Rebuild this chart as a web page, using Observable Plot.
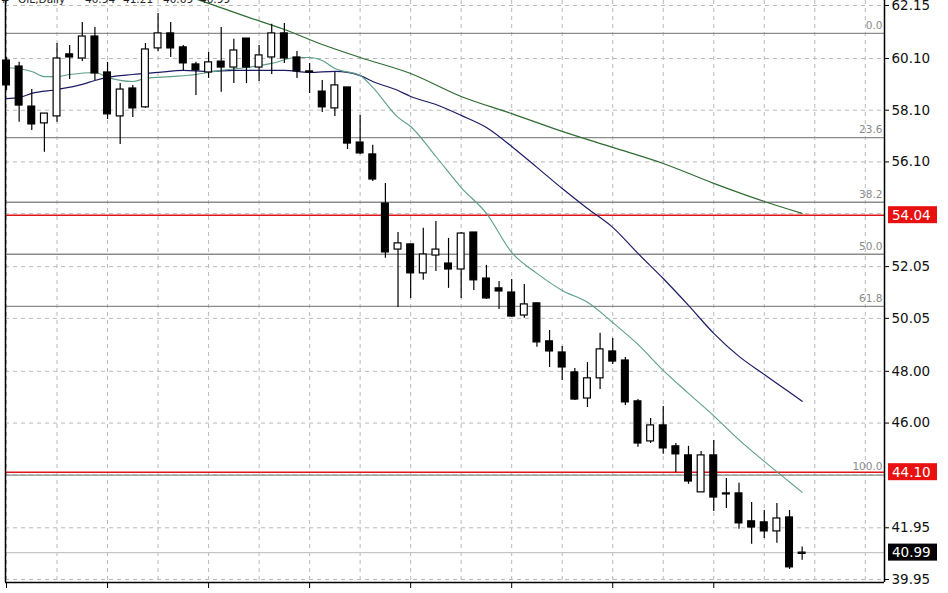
<!DOCTYPE html>
<html><head><meta charset="utf-8">
<script src="https://cdn.jsdelivr.net/npm/d3@7"></script>
<script src="https://cdn.jsdelivr.net/npm/@observablehq/plot@0.6"></script>
<style>
html,body{margin:0;padding:0;background:#fff;}
#chart{position:relative;width:948px;height:593px;overflow:hidden;}
#chart svg{display:block;}
</style></head><body><div id="chart"></div>
<script>
// ---- Data ----
const symbolName = "OIL,Daily";
const headerValues = ["40.94", "41.21", "40.69", "40.99"];

const opens  = [60.02,59.79,58.24,57.59,57.86,60.26,60.10,60.95,59.56,57.86,58.94,58.21,60.49,61.07,60.53,59.87,
                59.56,59.98,59.75,60.87,59.75,60.14,61.07,60.14,59.60,58.82,58.17,58.98,56.85,56.39,54.49,52.71,
                52.91,51.79,52.48,52.17,51.94,53.37,51.59,51.21,51.05,50.16,50.63,49.16,48.73,47.96,46.95,47.73,
                48.77,48.42,46.84,45.29,45.91,45.10,44.75,43.32,44.75,43.28,43.28,42.20,42.16,41.81,42.35,40.94];
const highs  = [60.14,59.95,58.90,57.97,60.68,60.60,61.49,61.30,59.95,59.13,59.06,60.68,61.84,61.49,60.60,59.95,
                60.33,61.30,60.84,60.87,60.60,61.42,61.45,60.37,59.91,59.25,59.56,58.98,57.90,56.74,55.27,53.37,
                52.91,53.53,53.80,53.14,53.37,53.37,52.10,51.48,51.55,51.36,50.63,49.58,48.96,48.11,48.34,49.47,
                49.27,48.54,46.91,46.18,46.64,45.21,45.10,44.90,45.33,43.86,43.67,42.93,42.62,42.89,42.62,41.21];
const lows   = [58.86,57.63,57.32,56.47,57.63,59.29,59.98,59.25,57.74,56.77,57.82,58.17,60.37,60.14,59.64,58.67,
                59.33,58.79,59.13,59.13,59.21,59.48,59.91,59.33,58.75,58.01,57.86,56.58,56.39,55.34,52.37,50.47,
                50.82,51.52,51.86,51.21,50.82,51.13,50.78,50.39,50.08,50.05,48.93,48.15,47.65,46.87,46.60,47.30,
                48.27,46.68,45.06,45.21,44.79,44.09,43.63,43.32,42.58,42.70,41.89,41.31,41.54,41.35,40.34,40.69];
const closes = [59.06,58.28,57.55,57.97,60.10,60.14,60.95,59.52,57.94,58.90,58.17,60.45,61.07,60.49,59.91,59.64,
                59.95,59.75,60.41,59.75,60.22,61.07,60.10,59.60,59.56,58.21,59.06,56.81,56.43,55.42,52.60,52.95,
                51.79,52.52,52.71,51.94,53.33,51.52,50.82,51.09,50.12,50.59,49.12,48.77,48.15,46.91,47.73,48.85,
                48.38,46.80,45.21,45.91,45.02,44.79,43.74,44.75,43.12,43.24,42.12,41.96,41.81,42.31,40.42,40.99];

// moving averages (bar index, price)
const fastIdx = [0,2,3,4,5,7,8,10,11,13,15,17,19,21,23,24,25,26,28,29,31,32,34,36,38,40,42,44,46,48,50,52,54,56,58,60,62,63];
const fastVal = [59.75,59.60,59.40,59.40,59.48,59.56,59.37,59.21,59.33,59.40,59.48,59.64,59.75,59.91,60.14,60.14,60.02,59.71,
                 59.44,58.98,57.82,57.47,56.31,55.11,54.11,52.60,51.79,51.13,50.67,49.89,49.04,48.04,47.15,46.28,45.35,44.52,43.72,43.32];
const midIdx  = [0,1,2,4,6,7,8,10,12,14,16,18,22,24,26,28,29,31,32,34,36,38,40,42,44,46,48,50,52,54,56,58,60,62,63];
const midVal  = [58.55,58.59,58.75,58.90,59.10,59.25,59.37,59.48,59.56,59.64,59.60,59.64,59.64,59.56,59.60,59.44,59.21,58.86,
                 58.63,58.32,57.90,57.43,56.70,55.89,55.07,54.30,53.57,52.56,51.59,50.55,49.47,48.58,47.88,47.19,46.84];
const slowIdx = [14,16,19,22,25,28,32,36,40,44,48,52,56,60,63];
const slowVal = [62.57,62.23,61.72,61.22,60.64,60.14,59.52,58.63,57.97,57.28,56.66,56.04,55.27,54.57,54.11];

// Fibonacci retracement levels
const fibLabels = ["0.0","23.6","38.2","50.0","61.8","100.0"];
const fibPrices = [61.07,57.04,54.54,52.53,50.51,43.99];

// horizontal support/resistance lines and current price
const redLevels = [54.04, 44.10];
const currentPrice = 40.99;

// price axis ticks
const yTicks = [62.15,60.10,58.10,56.10,54.10,52.05,50.05,48.00,46.00,44.00,41.95,39.95];
const yTickLabels = [62.15,60.10,58.10,56.10,52.05,50.05,48.00,46.00,41.95,39.95];
const xGridIdx = d3.range(0, 72, 4);
const xTickIdx = d3.range(0, 64, 8);

// ---- Build ----
const candles = opens.map((o, i) => ({i, open: o, high: highs[i], low: lows[i], close: closes[i]}));
const fast = fastIdx.map((i, k) => ({i, v: fastVal[k]}));
const mid  = midIdx.map((i, k) => ({i, v: midVal[k]}));
const slow = slowIdx.map((i, k) => ({i, v: slowVal[k]}));
const fib  = fibPrices.map((p, k) => ({p, label: fibLabels[k]}));

const xDomain = [-0.08, 69.52];
const yDomain = [39.834, 62.343];
const gridStyle = {stroke: "#b9b9b9", strokeDasharray: "4,4", strokeWidth: 1};

const plot = Plot.plot({
  width: 948, height: 593,
  marginLeft: 5, marginRight: 64, marginTop: 0, marginBottom: 11,
  x: {domain: xDomain, axis: null, label: null},
  y: {domain: yDomain, axis: null, label: null},
  style: {fontFamily: "DejaVu Sans", background: "white", overflow: "hidden"},
  marks: [
    Plot.ruleY(yTicks, gridStyle),
    Plot.ruleX(xGridIdx, gridStyle),
    Plot.ruleY(fibPrices, {stroke: "#8c8c8c", strokeWidth: 1.3}),
    Plot.text(fib, {x: () => xDomain[1], y: "p", text: "label", textAnchor: "end", dx: -2, dy: -8,
                    fill: "#8a8a8a", fontSize: 10.5}),
    Plot.ruleY([currentPrice], {stroke: "#c6c6c6", strokeWidth: 1.3}),
    Plot.ruleY(redLevels, {stroke: "#e01515", strokeWidth: 1.6}),
    Plot.line(slow, {x: "i", y: "v", stroke: "#2f6b32", strokeWidth: 1.2, curve: "monotone-x"}),
    Plot.line(mid,  {x: "i", y: "v", stroke: "#1b1b66", strokeWidth: 1.2, curve: "monotone-x"}),
    Plot.line(fast, {x: "i", y: "v", stroke: "#5d9e8b", strokeWidth: 1.1, curve: "monotone-x"}),
    Plot.ruleX(candles, {x: "i", y1: "low", y2: "high", stroke: "black", strokeWidth: 1.2}),
    Plot.rect(candles, {x1: d => d.i - 0.27, x2: d => d.i + 0.27, y1: "open", y2: "close",
                        fill: d => d.close >= d.open ? "white" : "black", stroke: "black", strokeWidth: 1.2}),
    Plot.ruleX([xDomain[0], xDomain[1]], {stroke: "black", strokeWidth: 1.5}),
    Plot.ruleY([yDomain[0]], {stroke: "black", strokeWidth: 1.5}),
    Plot.axisY(yTickLabels, {anchor: "right", tickSize: 4, tickPadding: 3, tickFormat: d => d.toFixed(2),
                             fontSize: 13.5, fill: "#111", label: null}),
    Plot.axisX(xTickIdx, {anchor: "bottom", tickSize: 6, tickFormat: () => "", label: null})
  ]
});
document.getElementById("chart").appendChild(plot);

// ---- price labels in the right margin, placed with the plot's own scales ----
const svg = d3.select(plot);
const ys = plot.scale("y");
const xRight = plot.scale("x").range[1];
const boxes = redLevels.map(v => ({v, fill: "#e8110f"})).concat([{v: currentPrice, fill: "#000"}]);
for (const b of boxes) {
  const yy = ys.apply(b.v);
  const g = svg.append("g");
  g.append("rect").attr("x", xRight + 4).attr("y", yy - 8.5).attr("width", 49).attr("height", 17).attr("fill", b.fill);
  g.append("text").attr("x", xRight + 8).attr("y", yy).attr("dy", "0.36em").attr("fill", "white")
    .attr("text-anchor", "start").attr("font-size", 13.5).attr("font-family", "DejaVu Sans").text(b.v.toFixed(2));
}

// ---- header line (cropped at the top, as in the reference) ----
const header = svg.append("text").attr("y", 3).attr("text-anchor", "start").attr("font-size", 10.5)
  .attr("font-family", "DejaVu Sans").attr("fill", "#222");
header.append("tspan").attr("x", 1).text("#");
header.append("tspan").attr("x", 18).text(symbolName);
const hx = [85, 123, 163, 200];
headerValues.forEach((t, k) => header.append("tspan").attr("x", hx[k]).text(t));
</script>
</body></html>
